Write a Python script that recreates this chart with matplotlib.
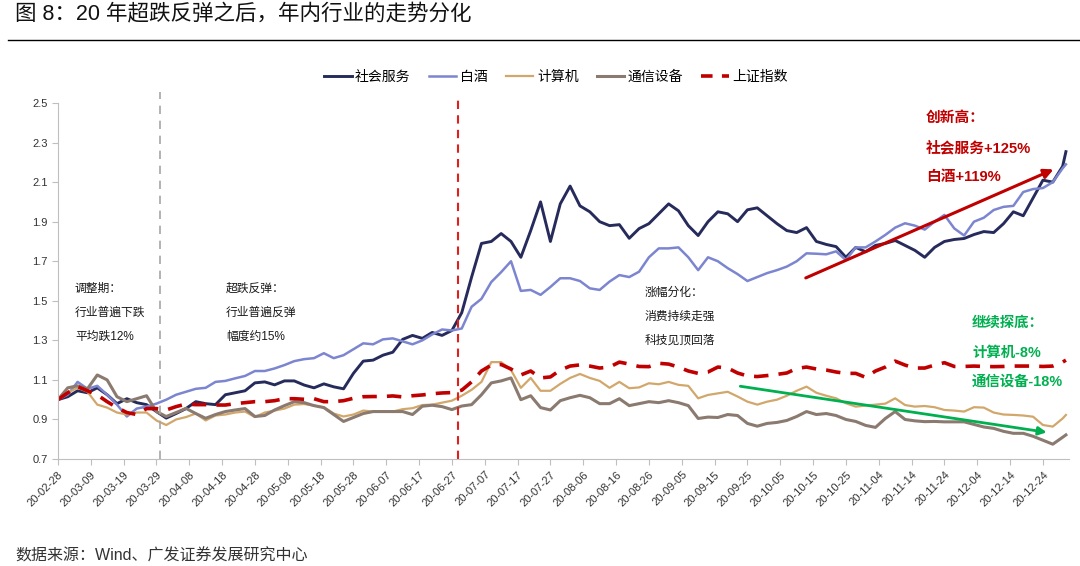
import numpy as np
import pandas as pd
import matplotlib
matplotlib.use('Agg')
import matplotlib.pyplot as plt
import matplotlib.dates as mdates
from matplotlib.lines import Line2D

plt.rcParams['font.family'] = ['Liberation Sans', 'Noto Sans CJK SC', 'DejaVu Sans']
plt.rcParams['axes.unicode_minus'] = False

# sample days counted from 2020-02-28 (every 3 calendar days + last day)
start = pd.Timestamp('2020-02-28')
day_offsets = list(range(0, 307, 3)) + [307]
dates = start + pd.to_timedelta(day_offsets, unit='D')

she_hui_fu_wu = [
    1.000, 1.015, 1.045, 1.035, 1.060, 1.025, 0.980, 1.005, 0.985, 0.975,
    0.940, 0.907, 0.930, 0.955, 0.990, 0.980, 0.975, 1.025, 1.035, 1.045,
    1.085, 1.090, 1.075, 1.095, 1.095, 1.074, 1.060, 1.080, 1.065, 1.055,
    1.133, 1.195, 1.200, 1.225, 1.240, 1.305, 1.325, 1.310, 1.340, 1.325,
    1.350, 1.440, 1.620, 1.790, 1.800, 1.840, 1.800, 1.720, 1.855, 2.000,
    1.800, 1.990, 2.080, 1.980, 1.950, 1.900, 1.880, 1.885, 1.816, 1.865,
    1.890, 1.940, 1.990, 1.955, 1.880, 1.830, 1.900, 1.950, 1.940, 1.900,
    1.960, 1.970, 1.930, 1.890, 1.855, 1.845, 1.870, 1.800, 1.785, 1.774,
    1.720, 1.770, 1.748, 1.780, 1.790, 1.805, 1.780, 1.755, 1.720, 1.770,
    1.800, 1.810, 1.815, 1.835, 1.850, 1.845, 1.890, 1.950, 1.930, 2.020,
    2.110, 2.100, 2.180, 2.254,
]
bai_jiu = [
    1.000, 1.025, 1.090, 1.055, 1.070, 1.025, 0.975, 0.915, 0.955, 0.965,
    0.980, 1.000, 1.025, 1.040, 1.055, 1.060, 1.090, 1.095, 1.108, 1.120,
    1.145, 1.145, 1.158, 1.175, 1.195, 1.205, 1.210, 1.235, 1.210, 1.225,
    1.255, 1.285, 1.280, 1.305, 1.310, 1.295, 1.280, 1.300, 1.330, 1.355,
    1.350, 1.360, 1.470, 1.510, 1.595, 1.645, 1.700, 1.550, 1.555, 1.530,
    1.570, 1.614, 1.614, 1.600, 1.563, 1.555, 1.597, 1.630, 1.620, 1.647,
    1.720, 1.765, 1.765, 1.770, 1.720, 1.655, 1.720, 1.700, 1.665, 1.635,
    1.600, 1.620, 1.640, 1.655, 1.673, 1.700, 1.740, 1.738, 1.735, 1.750,
    1.706, 1.770, 1.770, 1.800, 1.833, 1.870, 1.892, 1.880, 1.860, 1.900,
    1.934, 1.866, 1.830, 1.900, 1.920, 1.959, 1.975, 1.980, 2.050, 2.065,
    2.070, 2.100, 2.170, 2.190,
]
ji_suan_ji = [
    1.000, 1.035, 1.060, 1.040, 0.975, 0.960, 0.935, 0.925, 0.935, 0.935,
    0.895, 0.872, 0.900, 0.912, 0.930, 0.895, 0.920, 0.925, 0.935, 0.940,
    0.912, 0.935, 0.945, 0.955, 0.975, 0.978, 0.970, 0.962, 0.930, 0.915,
    0.925, 0.945, 0.940, 0.940, 0.940, 0.952, 0.957, 0.973, 0.975, 0.985,
    0.995, 1.020, 1.050, 1.090, 1.190, 1.190, 1.150, 1.060, 1.110, 1.045,
    1.045, 1.080, 1.110, 1.130, 1.110, 1.095, 1.060, 1.090, 1.058, 1.062,
    1.083, 1.078, 1.090, 1.075, 1.070, 1.007, 1.024, 1.032, 1.040, 1.016,
    0.990, 0.975, 0.990, 1.000, 1.020, 1.045, 1.066, 1.035, 1.020, 1.007,
    0.982, 0.965, 0.970, 0.975, 0.980, 1.007, 0.973, 0.965, 0.968, 0.962,
    0.948, 0.945, 0.940, 0.962, 0.960, 0.935, 0.925, 0.923, 0.920, 0.914,
    0.872, 0.864, 0.905, 0.923,
]
tong_xin = [
    1.000, 1.060, 1.070, 1.055, 1.125, 1.100, 1.015, 0.990, 1.005, 1.020,
    0.940, 0.915, 0.935, 0.956, 0.930, 0.906, 0.925, 0.940, 0.948, 0.955,
    0.915, 0.920, 0.948, 0.970, 0.990, 0.985, 0.970, 0.960, 0.925, 0.890,
    0.910, 0.930, 0.940, 0.940, 0.940, 0.940, 0.925, 0.967, 0.972, 0.965,
    0.950, 0.968, 0.975, 1.025, 1.085, 1.095, 1.110, 1.000, 1.020, 0.960,
    0.948, 0.995, 1.010, 1.022, 1.010, 0.980, 0.980, 1.005, 0.970, 0.980,
    0.990, 0.985, 0.995, 0.985, 0.970, 0.905, 0.912, 0.910, 0.925, 0.920,
    0.880, 0.866, 0.880, 0.885, 0.895, 0.915, 0.940, 0.925, 0.930, 0.920,
    0.900, 0.890, 0.870, 0.860, 0.905, 0.940, 0.900, 0.893, 0.889, 0.890,
    0.888, 0.888, 0.888, 0.875, 0.862, 0.855, 0.840, 0.830, 0.830, 0.815,
    0.795, 0.775, 0.810, 0.822,
]
shang_zheng = [
    1.000, 1.035, 1.066, 1.045, 1.024, 0.990, 0.960, 0.935, 0.925, 0.955,
    0.955, 0.948, 0.965, 0.978, 0.975, 0.975, 0.973, 0.973, 0.980, 0.985,
    0.990, 0.990, 0.995, 1.005, 1.005, 1.002, 1.005, 0.990, 0.990, 0.995,
    1.007, 1.015, 1.016, 1.016, 1.019, 1.014, 1.020, 1.024, 1.030, 1.034,
    1.036, 1.048, 1.090, 1.145, 1.175, 1.178, 1.155, 1.125, 1.145, 1.110,
    1.115, 1.150, 1.170, 1.176, 1.170, 1.160, 1.165, 1.190, 1.180, 1.168,
    1.167, 1.184, 1.180, 1.165, 1.145, 1.133, 1.140, 1.165, 1.160, 1.135,
    1.120, 1.117, 1.122, 1.128, 1.135, 1.158, 1.165, 1.155, 1.150, 1.140,
    1.133, 1.133, 1.113, 1.145, 1.165, 1.195, 1.175, 1.160, 1.160, 1.175,
    1.187, 1.168, 1.168, 1.170, 1.168, 1.167, 1.168, 1.170, 1.170, 1.170,
    1.168, 1.170, 1.190, 1.200,
]

series_names = ['社会服务', '白酒', '计算机', '通信设备', '上证指数']
phase_dates = ['2020-03-30', '2020-06-29']

# trend arrows: (start date, start value, end date, end value)
up_arrow = ('2020-10-12', 1.61, '2020-12-28', 2.17)
down_arrow = ('2020-09-22', 1.07, '2020-12-26', 0.833)

navy = '#262b5c'
light_blue = '#7c85cf'
tan = '#d2a76c'
brown = '#8a7a6f'
red = '#c00000'
green = '#00b050'
axis_grey = '#bfbfbf'

fig = plt.figure(figsize=(10.8, 5.66), dpi=100)
ax = fig.add_axes([0.0536, 0.189, 0.9364, 0.629])

l1, = ax.plot(dates, she_hui_fu_wu, color=navy, lw=2.1)
l2, = ax.plot(dates, bai_jiu, color=light_blue, lw=1.8)
l3, = ax.plot(dates, ji_suan_ji, color=tan, lw=1.6)
l4, = ax.plot(dates, tong_xin, color=brown, lw=2.2)
l5, = ax.plot(dates, shang_zheng, color=red, lw=2.6, ls=(0, (4, 2.8)))

# phase separators
ax.plot([pd.Timestamp(phase_dates[0])] * 2, [0.7, 2.555], color='#a6a6a6',
        lw=1.2, ls=(0, (5, 4)), clip_on=False)
ax.plot([pd.Timestamp(phase_dates[1])] * 2, [0.7, 2.535], color='#e0201b',
        lw=1.5, ls=(0, (4, 3)), clip_on=False)

ax.annotate('', xy=(pd.Timestamp(up_arrow[2]), up_arrow[3]),
            xytext=(pd.Timestamp(up_arrow[0]), up_arrow[1]),
            arrowprops=dict(arrowstyle='-|>', color=red, lw=2.2,
                            mutation_scale=14))
ax.annotate('', xy=(pd.Timestamp(down_arrow[2]), down_arrow[3]),
            xytext=(pd.Timestamp(down_arrow[0]), down_arrow[1]),
            arrowprops=dict(arrowstyle='-|>', color=green, lw=2.0,
                            mutation_scale=12))

ax.set_ylim(0.7, 2.5)
ax.set_yticks(np.arange(0.7, 2.51, 0.2))
ax.yaxis.set_major_formatter(plt.FormatStrFormatter('%.1f'))
ax.set_xlim(start, pd.Timestamp('2021-01-01'))
xticks = pd.date_range('2020-02-28', '2020-12-24', freq='10D')
ax.set_xticks(xticks)
ax.xaxis.set_major_formatter(mdates.DateFormatter('%y-%m-%d'))
plt.setp(ax.get_xticklabels(), rotation=45, ha='right', rotation_mode='anchor')

for s in ['top', 'right']:
    ax.spines[s].set_visible(False)
for s in ['left', 'bottom']:
    ax.spines[s].set_color(axis_grey)
ax.tick_params(axis='both', colors=axis_grey, length=4, labelsize=8,
               labelcolor='#333333')

# annotations
tkw = dict(transform=fig.transFigure, fontsize=8.5, color='#1a1a1a', va='center')
for x, lines in [(75, ['调整期：', '行业普遍下跌', '平均跌12%']),
                 (226, ['超跌反弹：', '行业普遍反弹', '幅度约15%']),
                 (645, ['涨幅分化：', '消费持续走强', '科技见顶回落'])]:
    y0 = 289 if x < 600 else 293
    for i, t in enumerate(lines):
        fig.text(x / 1080, 1 - (y0 + 24 * i) / 566, t, **tkw)

for i, t in enumerate(['创新高：', '社会服务+125%', '白酒+119%']):
    fig.text(926 / 1080, 1 - (118 + 29.5 * i) / 566, t, fontsize=10.6,
             fontweight='bold', color=red, va='center')
for i, t in enumerate(['继续探底：', '计算机-8%', '通信设备-18%']):
    fig.text(972 / 1080, 1 - (323 + 29.5 * i) / 566, t, fontsize=10.4,
             fontweight='bold', color=green, va='center')

# legend proxy for the dashed index line so two dashes show
sh_handle = Line2D([], [], color=red, lw=2.6, ls=(0, (3.2, 2.6)))
fig.legend([l1, l2, l3, l4, sh_handle], series_names, loc='center',
           bbox_to_anchor=(556 / 1080, 1 - 77 / 566), ncol=5, frameon=False,
           fontsize=10, handlelength=2.0, handletextpad=0.25, columnspacing=1.3)

fig.text(15 / 1080, 1 - 14 / 566, '图 8：20 年超跌反弹之后，年内行业的走势分化',
         fontsize=15.5, va='center', color='#111111')
fig.add_artist(plt.Line2D([8 / 1080, 1.0], [1 - 40 / 566] * 2, color='black',
                          lw=1.0, transform=fig.transFigure))
fig.text(15 / 1080, 1 - 556 / 566, '数据来源：Wind、广发证券发展研究中心',
         fontsize=11.5, va='center', color='#333333')

fig.savefig('out.png', dpi=100)
